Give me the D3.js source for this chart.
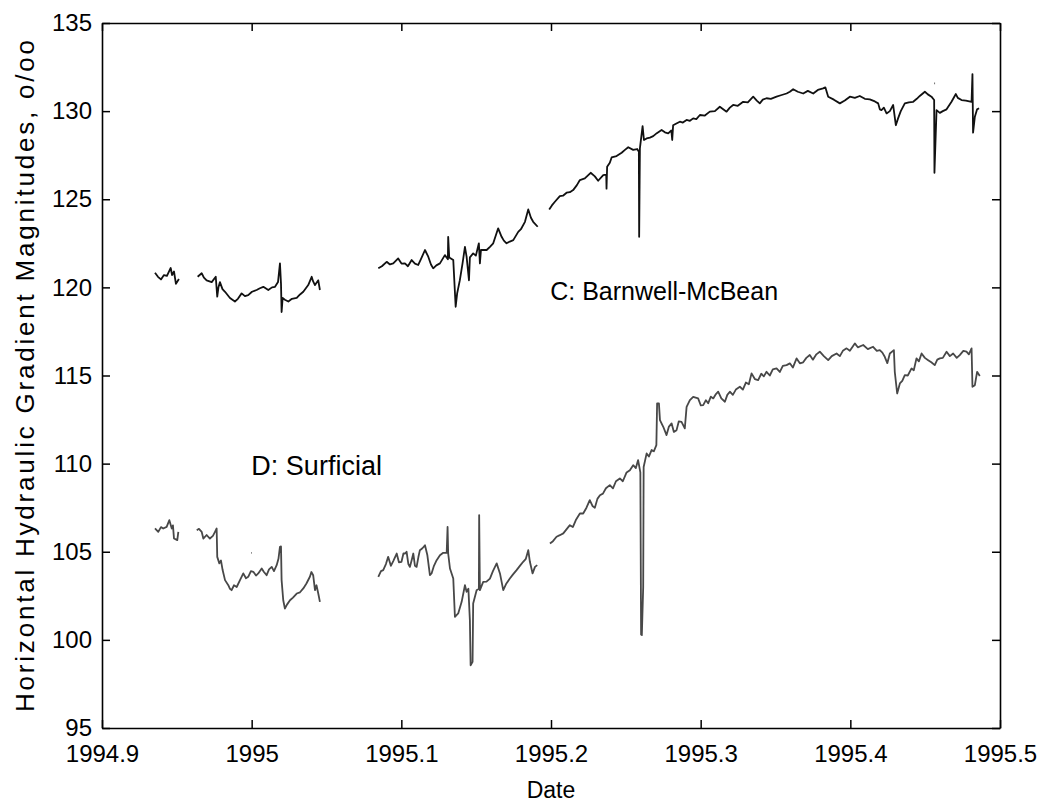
<!DOCTYPE html>
<html>
<head>
<meta charset="utf-8">
<script src="https://cdn.jsdelivr.net/npm/d3@7"></script>
<style>
  body { margin: 0; background: #fff; }
  text { font-family: "Liberation Sans", Arial, sans-serif; fill: #000; }
</style>
</head>
<body>
<div id="chart"></div>
<script>
var width = 1047;
var height = 803;
var margin = { top: 23, right: 47, bottom: 75, left: 102 };

var xTicks = [1994.9, 1995, 1995.1, 1995.2, 1995.3, 1995.4, 1995.5];
var yTicks = [95, 100, 105, 110, 115, 120, 125, 130, 135];

// C: Barnwell-McBean, runs of [decimal year, magnitude]
var barnwellRuns = [
  [[1994.9354,120.83],[1994.9374,120.6],[1994.9394,120.45],[1994.9414,120.7],[1994.9434,120.65],[1994.9459,121.1],
   [1994.9468,120.7],[1994.9481,120.9],[1994.9494,120.2],[1994.9514,120.47]],
  [[1994.9639,120.6],[1994.9666,120.8],[1994.9681,120.55],[1994.9699,120.4],[1994.9733,120.3],[1994.9760,120.6],
   [1994.9770,119.47],[1994.9778,120.0],[1994.9788,120.3],[1994.9805,119.9],[1994.9822,119.75],[1994.9855,119.4],
   [1994.9888,119.2],[1994.9908,119.35],[1994.9933,119.66],[1994.9955,119.5],[1994.9977,119.56],[1995.0002,119.75],
   [1995.0033,119.85],[1995.0055,119.95],[1995.0078,120.03],[1995.0111,119.85],[1995.0136,120.0],[1995.0156,120.03],
   [1995.0176,120.3],[1995.0189,121.36],[1995.0196,120.2],[1995.0200,118.6],[1995.0207,119.4],[1995.0222,119.3],
   [1995.0245,119.2],[1995.0269,119.35],[1995.0301,119.4],[1995.0323,119.6],[1995.0345,119.75],[1995.0378,120.13],
   [1995.0401,120.6],[1995.0410,120.35],[1995.0423,120.13],[1995.0445,120.4],[1995.0456,119.85]],
  [[1995.0846,121.08],[1995.0870,121.2],[1995.0902,121.45],[1995.0924,121.3],[1995.0946,121.36],[1995.0979,121.64],
   [1995.1001,121.35],[1995.1024,121.36],[1995.1044,121.2],[1995.1069,121.55],[1995.1091,121.35],[1995.1113,121.27],
   [1995.1131,121.6],[1995.1158,122.12],[1995.1180,121.74],[1995.1198,121.3],[1995.1213,121.08],[1995.1234,121.25],
   [1995.1258,121.36],[1995.1291,121.83],[1995.1311,121.6],[1995.1313,122.87],[1995.1320,121.7],[1995.1347,121.55],
   [1995.1363,118.9],[1995.1373,119.66],[1995.1391,120.41],[1995.1409,121.36],[1995.1425,122.3],[1995.1436,121.74],
   [1995.1452,120.4],[1995.1458,121.7],[1995.1480,121.93],[1995.1498,121.8],[1995.1518,122.5],[1995.1525,121.36],
   [1995.1532,122.12],[1995.1570,122.12],[1995.1592,122.3],[1995.1614,122.5],[1995.1647,123.35],[1995.1670,122.87],
   [1995.1685,122.65],[1995.1703,122.5],[1995.1725,122.6],[1995.1748,122.68],[1995.1781,123.15],[1995.1799,123.3],
   [1995.1826,123.72],[1995.1848,124.42],[1995.1866,123.95],[1995.1881,123.72],[1995.1911,123.44]],
  [[1995.1988,124.42],[1995.2006,124.65],[1995.2026,124.86],[1995.2059,125.18],[1995.2080,125.2],[1995.2104,125.37],
   [1995.2126,125.4],[1995.2148,125.52],[1995.2173,125.8],[1995.2193,126.09],[1995.2226,126.18],[1995.2265,126.5],
   [1995.2293,126.3],[1995.2315,126.05],[1995.2349,126.37],[1995.2369,126.4],[1995.2371,125.6],[1995.2375,126.84],
   [1995.2393,127.07],[1995.2405,127.37],[1995.2438,127.45],[1995.2472,127.64],[1995.2494,127.8],[1995.2516,127.95],
   [1995.2549,127.8],[1995.2576,127.85],[1995.2587,127.7],[1995.2589,122.87],[1995.2594,127.89],[1995.2612,129.15],
   [1995.2621,128.36],[1995.2639,128.45],[1995.2661,128.5],[1995.2683,128.58],[1995.2707,128.75],[1995.2739,128.93],
   [1995.2761,128.8],[1995.2783,128.74],[1995.2804,128.9],[1995.2810,128.36],[1995.2816,129.2],[1995.2838,129.3],
   [1995.2861,129.4],[1995.2881,129.35],[1995.2906,129.5],[1995.2928,129.45],[1995.2950,129.59],[1995.2971,129.55],
   [1995.2995,129.78],[1995.3028,129.75],[1995.3061,129.97],[1995.3095,130.0],[1995.3128,130.25],[1995.3173,129.97],
   [1995.3195,130.2],[1995.3217,130.35],[1995.3248,130.3],[1995.3284,130.53],[1995.3315,130.5],[1995.3351,130.82],
   [1995.3375,130.6],[1995.3395,130.44],[1995.3415,130.65],[1995.3440,130.73],[1995.3469,130.7],[1995.3507,130.82],
   [1995.3536,130.9],[1995.3574,131.0],[1995.3596,131.1],[1995.3618,131.24],[1995.3649,131.1],[1995.3685,131.0],
   [1995.3716,131.15],[1995.3752,131.0],[1995.3783,131.2],[1995.3818,131.29],[1995.3833,131.35],[1995.3852,130.82],
   [1995.3890,130.65],[1995.3930,130.44],[1995.3963,130.6],[1995.3997,130.82],[1995.4030,130.75],[1995.4063,130.86],
   [1995.4097,130.7],[1995.4130,130.67],[1995.4164,130.55],[1995.4186,130.44],[1995.4197,130.1],[1995.4208,130.06],
   [1995.4224,130.2],[1995.4242,129.87],[1995.4264,130.0],[1995.4286,130.35],[1995.4304,129.2],[1995.4319,129.59],
   [1995.4337,130.0],[1995.4364,130.44],[1995.4391,130.5],[1995.4420,130.53],[1995.4444,130.7],[1995.4464,130.86],
   [1995.4498,131.1],[1995.4518,130.95],[1995.4542,130.82],[1995.4560,130.63],[1995.4562,126.5],[1995.4576,130.06],
   [1995.4598,129.9],[1995.4618,130.0],[1995.4643,130.1],[1995.4676,130.53],[1995.4705,130.97],[1995.4718,130.75],
   [1995.4743,130.63],[1995.4772,130.6],[1995.4810,130.53],[1995.4816,132.1],[1995.4820,128.78],[1995.4832,129.68],
   [1995.4847,130.1],[1995.4860,130.16]],
  [[1995.4562,131.58],[1995.4566,131.58]]
];

// D: Surficial
var surficialRuns = [
  [[1994.9354,106.32],[1994.9376,106.13],[1994.9394,106.4],[1994.9409,106.32],[1994.9432,106.41],[1994.9450,106.79],
   [1994.9466,106.32],[1994.9474,106.5],[1994.9481,105.75],[1994.9503,105.66],[1994.9510,106.13]],
  [[1994.9633,106.22],[1994.9648,106.3],[1994.9666,106.13],[1994.9677,105.75],[1994.9699,105.95],[1994.9721,105.75],
   [1994.9741,105.9],[1994.9755,106.13],[1994.9766,106.32],[1994.9770,104.71],[1994.9784,104.34],[1994.9795,104.5],
   [1994.9806,103.96],[1994.9822,103.39],[1994.9844,103.1],[1994.9855,102.9],[1994.9866,102.82],[1994.9882,103.1],
   [1994.9900,103.0],[1994.9922,103.39],[1994.9944,103.77],[1994.9962,103.5],[1994.9977,103.58],[1994.9995,103.9],
   [1995.0011,103.86],[1995.0029,103.65],[1995.0044,103.77],[1995.0067,104.05],[1995.0082,103.85],[1995.0100,103.67],
   [1995.0116,104.0],[1995.0134,104.14],[1995.0149,103.9],[1995.0167,104.24],[1995.0179,104.6],[1995.0189,105.28],
   [1995.0196,105.3],[1995.0200,103.39],[1995.0211,102.25],[1995.0222,101.78],[1995.0236,102.0],[1995.0256,102.25],
   [1995.0276,102.4],[1995.0301,102.63],[1995.0323,102.7],[1995.0345,102.92],[1995.0366,103.2],[1995.0389,103.58],
   [1995.0399,103.85],[1995.0411,103.67],[1995.0423,102.82],[1995.0433,103.1],[1995.0445,102.63],[1995.0456,102.16]],
  [[1995.0846,103.58],[1995.0864,103.9],[1995.0879,103.96],[1995.0897,104.3],[1995.0912,104.71],[1995.0930,104.2],
   [1995.0946,104.47],[1995.0969,104.9],[1995.0984,104.4],[1995.1001,104.43],[1995.1014,104.9],[1995.1024,104.9],
   [1995.1035,105.0],[1995.1047,104.3],[1995.1057,104.14],[1995.1069,104.52],[1995.1080,104.9],[1995.1091,104.2],
   [1995.1102,104.14],[1995.1114,104.7],[1995.1124,105.09],[1995.1141,105.2],[1995.1158,105.37],[1995.1174,104.8],
   [1995.1191,103.67],[1995.1202,103.77],[1995.1218,104.2],[1995.1236,104.52],[1995.1258,104.8],[1995.1280,104.94],
   [1995.1303,104.94],[1995.1309,106.41],[1995.1313,104.9],[1995.1325,104.05],[1995.1347,103.48],[1995.1358,101.31],
   [1995.1380,101.5],[1995.1403,102.16],[1995.1425,103.1],[1995.1436,102.73],[1995.1448,102.9],[1995.1458,101.12],
   [1995.1463,98.56],[1995.1476,98.75],[1995.1480,102.06],[1995.1503,102.82],[1995.1518,102.9],[1995.1520,107.08],
   [1995.1525,102.82],[1995.1547,103.29],[1995.1569,103.3],[1995.1592,103.48],[1995.1612,103.9],[1995.1637,104.34],
   [1995.1659,103.77],[1995.1681,102.82],[1995.1702,103.2],[1995.1725,103.48],[1995.1745,103.7],[1995.1770,103.96],
   [1995.1792,104.2],[1995.1814,104.43],[1995.1832,104.6],[1995.1848,105.09],[1995.1859,104.43],[1995.1877,103.77],
   [1995.1893,104.14],[1995.1908,104.24]],
  [[1995.1993,105.47],[1995.2013,105.6],[1995.2037,105.85],[1995.2059,105.94],[1995.2082,106.04],[1995.2106,106.3],
   [1995.2126,106.51],[1995.2146,106.4],[1995.2166,106.8],[1995.2193,107.17],[1995.2215,107.17],[1995.2237,107.5],
   [1995.2259,107.93],[1995.2277,107.6],[1995.2293,107.5],[1995.2310,108.0],[1995.2327,108.21],[1995.2347,108.3],
   [1995.2367,108.6],[1995.2393,108.78],[1995.2414,108.6],[1995.2434,109.0],[1995.2460,109.16],[1995.2480,109.0],
   [1995.2505,109.5],[1995.2527,109.63],[1995.2549,109.91],[1995.2567,109.75],[1995.2582,110.2],[1995.2597,109.5],
   [1995.2602,100.3],[1995.2607,100.27],[1995.2616,103.0],[1995.2619,109.81],[1995.2639,110.58],[1995.2654,110.4],
   [1995.2672,110.77],[1995.2687,110.7],[1995.2704,111.05],[1995.2709,113.42],[1995.2721,113.42],[1995.2728,112.47],
   [1995.2750,112.09],[1995.2772,111.62],[1995.2788,112.1],[1995.2806,112.28],[1995.2821,111.8],[1995.2839,111.9],
   [1995.2854,112.4],[1995.2872,112.37],[1995.2894,112.0],[1995.2906,113.22],[1995.2928,113.6],[1995.2950,113.79],
   [1995.2983,113.7],[1995.3001,113.3],[1995.3017,113.32],[1995.3035,113.6],[1995.3050,113.42],[1995.3068,113.8],
   [1995.3084,113.7],[1995.3102,113.95],[1995.3117,114.08],[1995.3138,113.7],[1995.3162,113.51],[1995.3178,113.9],
   [1995.3195,114.08],[1995.3215,113.9],[1995.3235,114.2],[1995.3262,114.36],[1995.3282,114.2],[1995.3302,114.6],
   [1995.3322,114.5],[1995.3340,115.12],[1995.3362,114.8],[1995.3384,114.74],[1995.3405,115.1],[1995.3422,114.95],
   [1995.3440,115.21],[1995.3462,115.0],[1995.3482,115.35],[1995.3507,115.4],[1995.3529,115.2],[1995.3549,115.55],
   [1995.3574,115.59],[1995.3596,115.69],[1995.3616,115.45],[1995.3641,115.97],[1995.3663,115.69],[1995.3685,115.75],
   [1995.3706,116.0],[1995.3729,116.16],[1995.3750,115.9],[1995.3773,116.2],[1995.3796,116.35],[1995.3823,116.1],
   [1995.3852,115.87],[1995.3876,116.1],[1995.3908,116.25],[1995.3930,116.1],[1995.3950,116.4],[1995.3975,116.54],
   [1995.3997,116.4],[1995.4030,116.82],[1995.4050,116.6],[1995.4086,116.73],[1995.4117,116.5],[1995.4152,116.63],
   [1995.4177,116.4],[1995.4197,116.44],[1995.4214,116.3],[1995.4230,116.06],[1995.4247,115.7],[1995.4264,116.25],
   [1995.4291,116.44],[1995.4297,115.21],[1995.4313,113.98],[1995.4331,114.55],[1995.4347,114.7],[1995.4364,115.02],
   [1995.4384,115.0],[1995.4409,115.4],[1995.4424,115.3],[1995.4442,115.97],[1995.4458,115.8],[1995.4476,116.25],
   [1995.4498,116.0],[1995.4520,115.87],[1995.4541,115.75],[1995.4564,115.59],[1995.4581,115.9],[1995.4598,115.97],
   [1995.4618,116.0],[1995.4643,116.35],[1995.4665,116.1],[1995.4687,116.25],[1995.4711,116.0],[1995.4731,116.16],
   [1995.4755,116.4],[1995.4776,116.35],[1995.4792,116.2],[1995.4810,116.54],[1995.4816,114.36],[1995.4832,114.45],
   [1995.4847,115.21],[1995.4865,114.97]],
  [[1994.9998,104.94],[1995.0002,104.94]]
];

var svg = d3.select('#chart')
  .append('svg')
  .attr('width', width)
  .attr('height', height);

var innerW = width - margin.left - margin.right;
var innerH = height - margin.top - margin.bottom;

var x = d3.scaleLinear().domain([1994.9, 1995.5]).range([margin.left, margin.left + innerW]);
var y = d3.scaleLinear().domain([95, 135]).range([margin.top + innerH, margin.top]);

var fmt = function(d) { return String(+d.toFixed(1)); };

// bottom and left axes carry the labels, top and right only inward ticks
var axes = [
  { ax: d3.axisBottom(x).tickValues(xTicks).tickFormat(fmt), t: 'translate(0,' + (margin.top + innerH) + ')', pad: 17 },
  { ax: d3.axisTop(x).tickValues(xTicks).tickFormat(''), t: 'translate(0,' + margin.top + ')', pad: 0 },
  { ax: d3.axisLeft(y).tickValues(yTicks).tickFormat(fmt), t: 'translate(' + margin.left + ',0)', pad: 10 },
  { ax: d3.axisRight(y).tickValues(yTicks).tickFormat(''), t: 'translate(' + (margin.left + innerW) + ',0)', pad: 0 }
];

axes.forEach(function(a) {
  var g = svg.append('g')
    .attr('transform', a.t)
    .call(a.ax.tickSizeInner(-8).tickSizeOuter(0).tickPadding(a.pad));
  g.select('.domain').attr('stroke', '#000').attr('stroke-width', 1.6);
  g.selectAll('.tick line').attr('stroke', '#000').attr('stroke-width', 1.5);
  g.selectAll('.tick text')
    .style('font-size', '24px')
    .attr('fill', '#000');
});

var line = d3.line()
  .x(function(d) { return x(d[0]); })
  .y(function(d) { return y(d[1]); });

svg.append('g').selectAll('path')
  .data(barnwellRuns)
  .enter()
  .append('path')
  .attr('d', line)
  .attr('fill', 'none')
  .attr('stroke', '#111')
  .attr('stroke-width', 1.8)
  .attr('stroke-linejoin', 'round');

svg.append('g').selectAll('path')
  .data(surficialRuns)
  .enter()
  .append('path')
  .attr('d', line)
  .attr('fill', 'none')
  .attr('stroke', '#484848')
  .attr('stroke-width', 1.8)
  .attr('stroke-linejoin', 'round');

svg.append('text')
  .attr('x', x(1995.1988) + 1)
  .attr('y', y(119.3))
  .style('font-size', '25px')
  .text('C: Barnwell-McBean');

svg.append('text')
  .attr('x', x(1994.9998))
  .attr('y', y(109.35))
  .style('font-size', '27px')
  .text('D: Surficial');

svg.append('text')
  .attr('x', margin.left + innerW / 2)
  .attr('y', 798)
  .attr('text-anchor', 'middle')
  .style('font-size', '23px')
  .text('Date');

svg.append('text')
  .attr('transform', 'translate(34,' + 376 + ') rotate(-90)')
  .attr('text-anchor', 'middle')
  .attr('textLength', 672)
  .attr('lengthAdjust', 'spacing')
  .style('font-size', '26px')
  .text('Horizontal Hydraulic Gradient Magnitudes, o/oo');
</script>
</body>
</html>
